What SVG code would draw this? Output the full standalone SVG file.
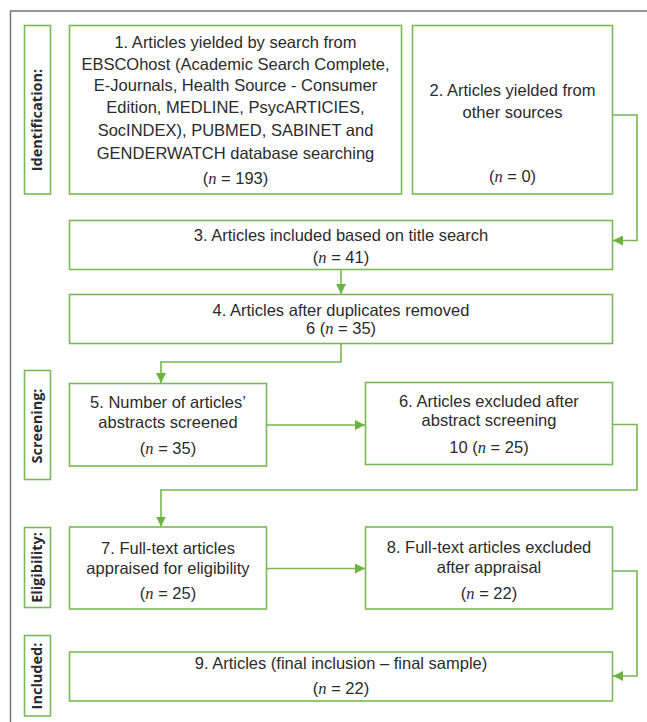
<svg xmlns="http://www.w3.org/2000/svg" width="647" height="722" viewBox="0 0 647 722">
<defs>
<marker id="ah" viewBox="0 0 10 10" refX="10" refY="5" markerWidth="10" markerHeight="10" markerUnits="userSpaceOnUse" orient="auto">
<path d="M0,0 L10,5 L0,10 Z" fill="#6cb33f"/>
</marker>
<style>
.box{fill:#fff;stroke:#7cb857;stroke-width:1.6}
.lbl{fill:#fff;stroke:#7cb857;stroke-width:1.6}
.t{font-family:"Liberation Sans",Arial,sans-serif;font-size:16.5px;fill:#2b2b2b;text-anchor:middle}
.v{font-family:"Open Sans","Liberation Sans",sans-serif;font-size:14.5px;font-weight:bold;fill:#2b2b2b;text-anchor:middle}
.n{font-family:"Liberation Serif",serif;font-style:italic}
.c{fill:none;stroke:#79b553;stroke-width:1.6}
</style>
</defs>
<rect x="10.5" y="11" width="700" height="720" fill="none" stroke="#777" stroke-width="1.5"/>

<g id="lbl-identification">
<rect class="lbl" x="24.5" y="25.5" width="26" height="168.5"/>
<text class="v" transform="translate(42,120) rotate(-90)">Identification:</text>
</g>
<g id="lbl-screening">
<rect class="lbl" x="24.5" y="370.5" width="26" height="109"/>
<text class="v" transform="translate(42,426) rotate(-90)">Screening:</text>
</g>
<g id="lbl-eligibility">
<rect class="lbl" x="24.5" y="527.5" width="26" height="80"/>
<text class="v" transform="translate(42,567.5) rotate(-90)">Eligibility:</text>
</g>
<g id="lbl-included">
<rect class="lbl" x="24.5" y="635.5" width="26" height="80.5"/>
<text class="v" transform="translate(42,676) rotate(-90)">Included:</text>
</g>

<g id="node1">
<rect class="box" x="69.5" y="25.5" width="332" height="168.5"/>
<text class="t" x="235.5" y="47.5">1. Articles yielded by search from</text>
<text class="t" x="235.5" y="69.5">EBSCOhost (Academic Search Complete,</text>
<text class="t" x="235.5" y="91">E-Journals, Health Source - Consumer</text>
<text class="t" x="235.5" y="113">Edition, MEDLINE, PsycARTICIES,</text>
<text class="t" x="235.5" y="136">SocINDEX), PUBMED, SABINET and</text>
<text class="t" x="235.5" y="159">GENDERWATCH database searching</text>
<text class="t" x="235.5" y="184">(<tspan class="n">n</tspan> = 193)</text>
</g>
<g id="node2">
<rect class="box" x="412.5" y="25.5" width="200" height="168.5"/>
<text class="t" x="512.5" y="96">2. Articles yielded from</text>
<text class="t" x="512.5" y="118">other sources</text>
<text class="t" x="512.5" y="181.5">(<tspan class="n">n</tspan> = 0)</text>
</g>
<g id="node3">
<rect class="box" x="69.5" y="220.5" width="543" height="49"/>
<text class="t" x="341" y="241">3. Articles included based on title search</text>
<text class="t" x="341" y="262.5">(<tspan class="n">n</tspan> = 41)</text>
</g>
<g id="node4">
<rect class="box" x="69.5" y="294.5" width="543" height="49"/>
<text class="t" x="341" y="316">4. Articles after duplicates removed</text>
<text class="t" x="341" y="334">6 (<tspan class="n">n</tspan> = 35)</text>
</g>
<g id="node5">
<rect class="box" x="69.5" y="383.5" width="197" height="82.5"/>
<text class="t" x="168" y="407.5">5. Number of articles’</text>
<text class="t" x="168" y="427.5">abstracts screened</text>
<text class="t" x="168" y="454">(<tspan class="n">n</tspan> = 35)</text>
</g>
<g id="node6">
<rect class="box" x="365.5" y="382.5" width="247" height="82"/>
<text class="t" x="489" y="406.5">6. Articles excluded after</text>
<text class="t" x="489" y="426">abstract screening</text>
<text class="t" x="489" y="452.5">10 (<tspan class="n">n</tspan> = 25)</text>
</g>
<g id="node7">
<rect class="box" x="69.5" y="527" width="197" height="82"/>
<text class="t" x="168" y="553.5">7. Full-text articles</text>
<text class="t" x="168" y="573.5">appraised for eligibility</text>
<text class="t" x="168" y="599">(<tspan class="n">n</tspan> = 25)</text>
</g>
<g id="node8">
<rect class="box" x="365.5" y="527" width="247" height="82"/>
<text class="t" x="489" y="552.5">8. Full-text articles excluded</text>
<text class="t" x="489" y="573">after appraisal</text>
<text class="t" x="489" y="599">(<tspan class="n">n</tspan> = 22)</text>
</g>
<g id="node9">
<rect class="box" x="69.5" y="652" width="543" height="49"/>
<text class="t" x="341" y="669">9. Articles (final inclusion – final sample)</text>
<text class="t" x="341" y="694">(<tspan class="n">n</tspan> = 22)</text>
</g>

<g id="connectors">
<path class="c" d="M612.5,115 H637 V240.5 H613" marker-end="url(#ah)"/>
<path class="c" d="M341,269.5 V294" marker-end="url(#ah)"/>
<path class="c" d="M341,343.5 V362 H161 V383" marker-end="url(#ah)"/>
<path class="c" d="M266.5,425 H365" marker-end="url(#ah)"/>
<path class="c" d="M612.5,424.5 H637 V490 H161 V526.5" marker-end="url(#ah)"/>
<path class="c" d="M266.5,568.5 H365" marker-end="url(#ah)"/>
<path class="c" d="M612.5,571 H637 V676 H613" marker-end="url(#ah)"/>
</g>
</svg>
